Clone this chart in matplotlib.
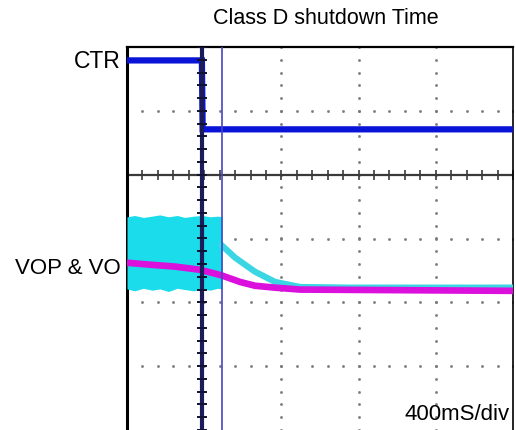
import numpy as np
import matplotlib.pyplot as plt

# time axis in ms (400 ms per division), amplitude in divisions
ms_per_div = 400

# CTR control line
ctr_t = [0, 388, 392, 2000]
ctr_v = [1.79, 1.79, 0.71, 0.71]

# VOP: switching burst envelope until shutdown, then decay tail
vop_burst_t = [0, 40, 85, 130, 170, 215, 260, 300, 345, 390, 430, 470, 492]
vop_burst_top = [-0.66, -0.64, -0.67, -0.65, -0.63, -0.66, -0.64, -0.67, -0.65, -0.64, -0.66, -0.65, -0.66]
vop_burst_bot = [-1.79, -1.82, -1.78, -1.81, -1.79, -1.83, -1.78, -1.80, -1.82, -1.79, -1.81, -1.78, -1.79]
vop_tail_t = [492, 560, 663, 767, 896, 1155, 2000]
vop_tail_v = [-1.11, -1.30, -1.52, -1.68, -1.76, -1.77, -1.77]

# VO (magenta)
vo_t = [0, 119, 249, 378, 456, 492, 585, 663, 767, 896, 2000]
vo_v = [-1.38, -1.41, -1.44, -1.49, -1.55, -1.58, -1.68, -1.74, -1.77, -1.80, -1.82]

# cursors
cursor_a = 389
cursor_b = 492

fig = plt.figure(figsize=(5.16, 4.30), dpi=100)
ax = fig.add_axes([127 / 516, 0, 386 / 516, 383 / 430])
ax.set_xlim(0, 5 * ms_per_div)
ax.set_ylim(-4, 2)

# dotted graticule
minor_x = np.arange(0, 5 * ms_per_div + 1, ms_per_div / 5)
minor_y = np.arange(-4, 2.01, 0.2)
for gx in [800, 1200, 1600]:
    ax.plot([gx] * len(minor_y), minor_y, ls='none', marker='s', ms=0.9, color='#7a7a7a', zorder=1)
for gy in [1, -1, -2, -3]:
    ax.plot(minor_x, [gy] * len(minor_x), ls='none', marker='s', ms=0.9, color='#7a7a7a', zorder=1)

# centre axis with ticks
ax.axhline(0, color='#3a3a3a', lw=1.6, zorder=2)
ax.plot(minor_x, [0] * len(minor_x), ls='none', marker='|', ms=7, mew=1.2, color='#3a3a3a', zorder=2)

# traces
ax.plot(ctr_t, ctr_v, color='#0a14d8', lw=4.5, solid_joinstyle='miter', zorder=3)
ax.fill_between(vop_burst_t, vop_burst_bot, vop_burst_top, color='#1adcea', lw=0, zorder=3)
ax.plot(vop_tail_t, vop_tail_v, color='#3ad6e4', lw=4.5, zorder=3)
ax.plot(vo_t, vo_v, color='#dc10dc', lw=4.8, zorder=4)

# cursors
ax.axvline(cursor_a, color='#1c1c5a', lw=3, zorder=5)
ax.plot([cursor_a] * len(minor_y), minor_y, ls='none', marker='_', ms=7, mew=1.4, color='#111133', zorder=5)
ax.axvline(cursor_b, color='#4646c0', lw=1.2, zorder=5)

ax.set_xticks([])
ax.set_yticks([])
ax.spines['bottom'].set_visible(False)
ax.spines['left'].set_linewidth(2.2)
ax.spines['top'].set_linewidth(1.6)
ax.spines['right'].set_linewidth(1.2)

font = 'Liberation Sans'
fig.text(326 / 516, 1 - 19 / 430, 'Class D shutdown Time', ha='center', va='center',
         fontsize=15.5, family=font)
fig.text(121 / 516, 1 - 62 / 430, 'CTR', ha='right', va='center', fontsize=16.5, family=font)
fig.text(121 / 516, 1 - 268 / 430, 'VOP & VO', ha='right', va='center', fontsize=16, family=font)
ax.text(0.99, 0.012, '400mS/div', transform=ax.transAxes, ha='right', va='bottom',
        fontsize=16, family=font)

fig.savefig('out.png', dpi=100)
